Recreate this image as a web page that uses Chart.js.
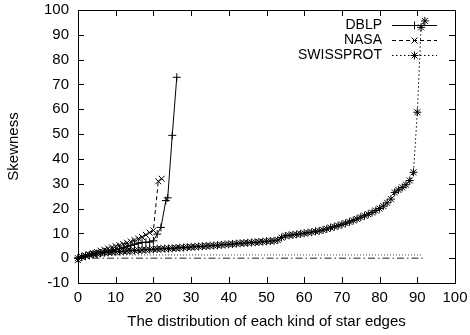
<!DOCTYPE html>
<html>
<head>
<meta charset="utf-8">
<script src="https://cdn.jsdelivr.net/npm/chart.js@4/dist/chart.umd.min.js"></script>
<style>
  html, body { margin: 0; padding: 0; background: #fff; }
  #wrap { width: 470px; height: 335px; }
</style>
</head>
<body>
<div id="wrap"><canvas id="myChart" width="470" height="335"></canvas></div>
<script>
// series names, as in the key
const seriesNames = ['DBLP', 'NASA', 'SWISSPROT'];

// DBLP (solid, +)
const dblpX = [0,1,2,3,4,5,6,7,8,9,10,11,12,13,14,15,16,17,18,19,20,21,22,23.3,23.8,25,26.2];
const dblpY = [0,0.4,0.8,1.1,1.5,1.8,2.1,2.5,2.8,3.1,3.5,3.8,4.2,4.6,5.1,5.6,6,6.3,6.4,6.5,7,9.7,12.4,23.2,24.3,49.5,72.9];

// NASA (dashed, x)
const nasaX = [0,1,2,3,4,5,6,7,8,9,10,11,12,13,14,15,16,17,18,19,20,21.3,22.2];
const nasaY = [-0.8,0.5,1,1.5,2,2.5,3,3.4,3.9,4.3,4.8,5.2,5.7,6.2,6.7,7.3,7.9,8.5,9.4,10.3,11.2,31,32];

// SWISSPROT (dotted, *), one value per x = 0,1,2,...
const swissY = [0,0.6,1.0,1.3,1.6,1.8,2.0,2.2,2.35,2.5,
  2.6,2.7,2.8,2.9,3.0,3.1,3.2,3.3,3.4,3.5,
  3.6,3.7,3.8,3.85,3.9,4.0,4.1,4.2,4.3,4.4,
  4.5,4.6,4.7,4.8,4.9,5.0,5.1,5.2,5.35,5.5,
  5.6,5.7,5.85,6.0,6.1,6.2,6.3,6.4,6.5,6.65,
  6.8,6.9,7.0,7.3,8.3,9.0,9.2,9.4,9.6,9.8,
  10.0,10.3,10.5,10.8,11.0,11.4,11.8,12.3,12.7,13.1,
  13.6,14.1,14.6,15.2,15.8,16.5,17.1,17.7,18.4,19.2,
  20.0,21.0,22.3,23.8,26.5,27.5,28.5,29.6,31.3,34.6,
  58.8,93.0,95.6];

// the two flat unlabeled lines near zero
const flatX = [0, 91.5];
const dottedFlatY = [1.3, 1.3];
const dashDotFlatY = [0, 0];

const xMin = 0, xMax = 100, xStep = 10;
const yMin = -10, yMax = 100, yStep = 10;

const styles = [
  { dash: [], point: 'plus' },
  { dash: [4, 3], point: 'x' },
  { dash: [1.5, 2.5], point: 'star' }
];

const fontFamily = '"Liberation Sans", Arial, Helvetica, sans-serif';

function pts(xs, ys) {
  return ys.map((y, i) => ({ x: xs[i], y: y }));
}

function drawMark(ctx, kind, x, y, r) {
  ctx.beginPath();
  if (kind === 'plus' || kind === 'star') {
    ctx.moveTo(x - r, y); ctx.lineTo(x + r, y);
    ctx.moveTo(x, y - r); ctx.lineTo(x, y + r);
  }
  if (kind === 'x' || kind === 'star') {
    const d = r * 0.75;
    ctx.moveTo(x - d, y - d); ctx.lineTo(x + d, y + d);
    ctx.moveTo(x - d, y + d); ctx.lineTo(x + d, y - d);
  }
  ctx.stroke();
}

// markers drawn by hand so they look like gnuplot points
const markerPlugin = {
  id: 'marks',
  afterDatasetsDraw(chart) {
    const ctx = chart.ctx;
    ctx.save();
    ctx.strokeStyle = '#000';
    ctx.lineWidth = 1;
    ctx.setLineDash([]);
    chart.data.datasets.forEach((ds, i) => {
      if (ds.mark == null) return;
      chart.getDatasetMeta(i).data.forEach(p => drawMark(ctx, ds.mark, p.x, p.y, 4));
    });
    ctx.restore();
  }
};

// frame with inward ticks on all sides, plus the key
const framePlugin = {
  id: 'frame',
  afterDraw(chart) {
    const ctx = chart.ctx;
    const a = chart.chartArea;
    const xs = chart.scales.x, ys = chart.scales.y;
    ctx.save();
    ctx.strokeStyle = '#000';
    ctx.lineWidth = 1;
    ctx.setLineDash([]);
    ctx.strokeRect(Math.round(a.left) + 0.5, Math.round(a.top) + 0.5,
                   Math.round(a.right - a.left), Math.round(a.bottom - a.top));
    const tl = 6;
    ctx.beginPath();
    for (let v = xMin + xStep; v < xMax; v += xStep) {
      const px = Math.round(xs.getPixelForValue(v)) + 0.5;
      ctx.moveTo(px, a.bottom); ctx.lineTo(px, a.bottom - tl);
      ctx.moveTo(px, a.top); ctx.lineTo(px, a.top + tl);
    }
    for (let v = yMin + yStep; v < yMax; v += yStep) {
      const py = Math.round(ys.getPixelForValue(v)) + 0.5;
      ctx.moveTo(a.left, py); ctx.lineTo(a.left + tl, py);
      ctx.moveTo(a.right, py); ctx.lineTo(a.right - tl, py);
    }
    ctx.stroke();

    // key, top right inside the frame
    ctx.font = '14px ' + fontFamily;
    ctx.fillStyle = '#000';
    ctx.textAlign = 'right';
    ctx.textBaseline = 'middle';
    const textRight = a.right - 73;
    const lineL = a.right - 63, lineR = a.right - 18;
    seriesNames.forEach((name, i) => {
      const y = a.top + 15 + i * 15;
      ctx.fillText(name, textRight, y);
      ctx.setLineDash(styles[i].dash);
      ctx.beginPath();
      ctx.moveTo(lineL, Math.round(y) + 0.5);
      ctx.lineTo(lineR, Math.round(y) + 0.5);
      ctx.stroke();
      ctx.setLineDash([]);
      drawMark(ctx, styles[i].point, (lineL + lineR) / 2, Math.round(y) + 0.5, 4);
    });
    ctx.restore();
  }
};

const tickFont = { family: fontFamily, size: 15 };
const titleFont = { family: fontFamily, size: 15 };

const config = {
  type: 'line',
  data: {
    datasets: [{
      label: seriesNames[0],
      data: pts(dblpX, dblpY),
      borderColor: '#000',
      borderWidth: 1,
      borderDash: styles[0].dash,
      pointRadius: 0,
      mark: styles[0].point
    }, {
      label: seriesNames[1],
      data: pts(nasaX, nasaY),
      borderColor: '#000',
      borderWidth: 1,
      borderDash: styles[1].dash,
      pointRadius: 0,
      mark: styles[1].point
    }, {
      label: seriesNames[2],
      data: pts(swissY.map((_, i) => i), swissY),
      borderColor: '#000',
      borderWidth: 1,
      borderDash: styles[2].dash,
      pointRadius: 0,
      mark: styles[2].point
    }, {
      label: '',
      data: pts(flatX, dottedFlatY),
      borderColor: '#444',
      borderWidth: 1,
      borderDash: [1, 2],
      pointRadius: 0
    }, {
      label: '',
      data: pts(flatX, dashDotFlatY),
      borderColor: '#222',
      borderWidth: 1,
      borderDash: [7, 3, 1.5, 3],
      pointRadius: 0
    }]
  },
  options: {
    responsive: false,
    animation: false,
    layout: { padding: { top: 10, right: 15, left: 0, bottom: 0 } },
    plugins: {
      legend: { display: false },
      tooltip: { enabled: false }
    },
    elements: { line: { tension: 0 } },
    scales: {
      x: {
        type: 'linear',
        min: xMin, max: xMax,
        grid: { display: false, drawTicks: false },
        border: { display: false },
        ticks: { stepSize: xStep, color: '#000', font: tickFont, padding: 6, maxRotation: 0 },
        title: { display: true, text: 'The distribution of each kind of star edges', color: '#000', font: titleFont, padding: { top: 0, bottom: 4 } },
        afterFit: s => { s.height = 52; s.paddingLeft = 0; s.paddingRight = 0; }
      },
      y: {
        type: 'linear',
        min: yMin, max: yMax,
        grid: { display: false, drawTicks: false },
        border: { display: false },
        ticks: { stepSize: yStep, color: '#000', font: tickFont, padding: 9 },
        title: { display: true, text: 'Skewness', color: '#000', font: titleFont, padding: { top: 5, bottom: 0 } },
        afterFit: s => { s.width = 78; s.paddingTop = 0; s.paddingBottom = 0; }
      }
    }
  },
  plugins: [markerPlugin, framePlugin]
};

const myChart = new Chart(document.getElementById('myChart'), config);
</script>
</body>
</html>
